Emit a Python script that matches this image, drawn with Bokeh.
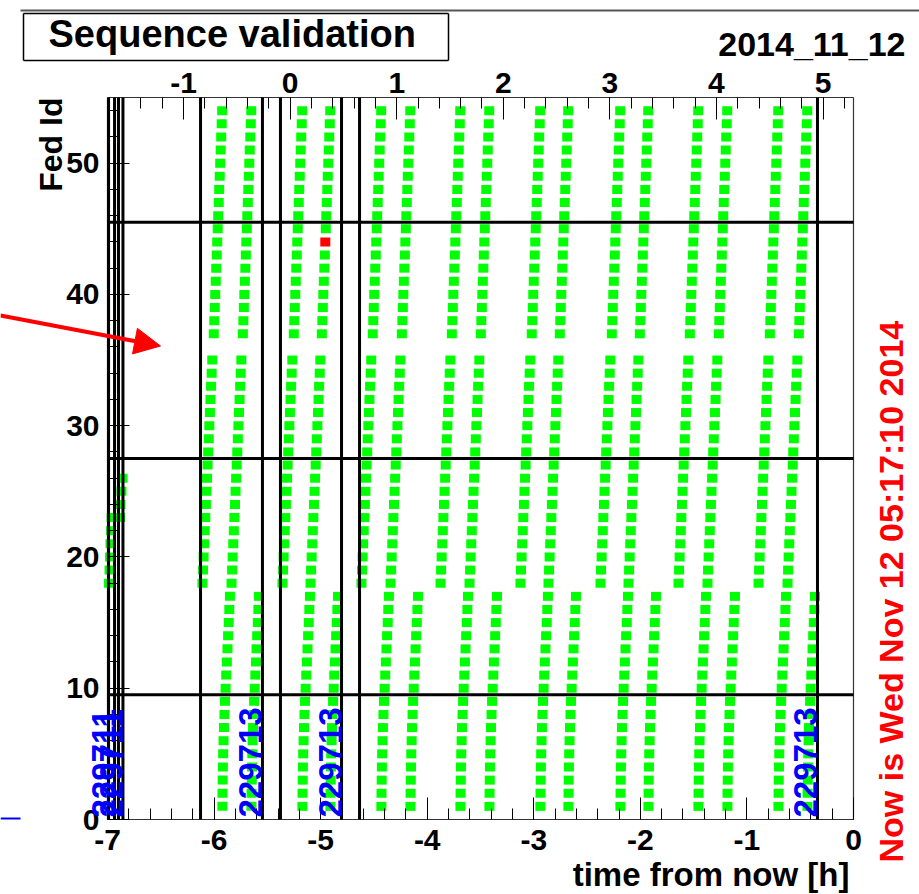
import math
from bokeh.plotting import figure
from bokeh.models import (Range1d, LinearAxis, SingleIntervalTicker, ColumnDataSource,
                          Label, LabelSet, Arrow, NormalHead, CustomJSTickFormatter)
from bokeh.core.properties import value
from bokeh.embed import file_html
from bokeh.resources import INLINE

# ---------------- data ----------------
# FED ids in the order they are validated within one sequence pass
fed_mid = [18, 19, 20, 21, 22, 23, 24, 25, 26, 27, 28, 29, 30, 31, 32, 33, 34, 35]
fed_top = [37, 38, 39, 40, 41, 42, 43, 44, 45, 46, 47, 48, 49, 50, 51, 52, 53, 54]
fed_bot = [1, 2, 3, 4, 5, 6, 7, 8, 9, 10, 11, 12, 13, 14, 15, 16, 17]
# time (s) after the pass start at which each FED is validated
off_mid_s = [0, 19, 38, 58, 77, 96, 116, 135, 155, 174, 193, 212, 232, 252, 271, 291, 311, 331]
off_top_s = [382, 399, 416, 432, 449, 466, 483, 499, 516, 533, 549, 566, 583, 600, 616, 633, 650, 666]
off_bot_s = [672, 677, 683, 690, 700, 712, 726, 743, 762, 782, 803, 824, 845, 866, 887, 907, 928]
# start time of each complete pass (hours from now)
pass_start_h = [-6.109, -5.836, -5.358, -5.095, -4.617, -4.344, -3.875, -3.603,
                -3.125, -2.862, -2.374, -2.111, -1.642, -1.370, -0.891, -0.619]
# partial passes at the very beginning
partial_fed = [18, 19, 20, 21, 22, 23, 23, 24, 25, 26]
partial_time_h = [-6.986, -6.981, -6.976, -6.972, -6.967, -6.962, -6.883, -6.878, -6.869, -6.859]
# failed validations (pass index, fed id)
bad_pass = [3]
bad_fed = [44]
# runs
run_start_h = [-6.990, -6.897, -6.127, -5.377, -4.635]
run_end_h = [-6.934, -6.855, -5.546, -4.804, -0.338]
run_number = ["229711", "229711", "229713", "229713", "229713"]
# crate boundaries (Fed Id)
crate_edges = [9.5, 27.5, 45.5]

t_min, t_max = -7, 0
fed_min, fed_max = 0, 55

title_text = "Sequence validation"
date_text = "2014_11_12"
now_text = "Now is Wed Nov 12 05:17:10 2014"
now_hour = 5 + 17 / 60 + 10 / 3600
x_label = "time from now [h]"
y_label = "Fed Id"

FONT = "Liberation Sans"
W, H = 919, 894
# frame placement on the canvas (pixels)
FL, FR, FT, FB = 107, 853, 97, 819

# ---------------- build points ----------------
fed_order = fed_mid + fed_top + fed_bot
fed_off = off_mid_s + off_top_s + off_bot_s
xs, ys, cs = [], [], []
for k, t0 in enumerate(pass_start_h):
    for f, o in zip(fed_order, fed_off):
        xs.append(t0 + o / 3600.0)
        ys.append(f)
        bad = any(bp == k and bf == f for bp, bf in zip(bad_pass, bad_fed))
        cs.append("#ff0000" if bad else "#00ff00")
for f, t in zip(partial_fed, partial_time_h):
    xs.append(t)
    ys.append(f)
    cs.append("#00ff00")
pts = ColumnDataSource(dict(x=xs, y=ys, c=cs))

# ---------------- figure (frame = whole canvas; axes pinned inside) ----------------
kx = (FR - FL) / (t_max - t_min)
ky = (FB - FT) / (fed_max - fed_min)
xr = Range1d(t_min - FL / kx, t_max + (W - FR) / kx)
yr = Range1d(fed_min - (H - FB) / ky, fed_max + FT / ky)

p = figure(width=W, height=H, x_range=xr, y_range=yr, output_backend="svg",
           toolbar_location=None, x_axis_location=None, y_axis_location=None,
           min_border=0, min_border_left=0, min_border_right=0,
           min_border_top=0, min_border_bottom=0)
p.grid.visible = False
p.background_fill_color = "white"
p.border_fill_color = "white"
p.outline_line_color = None

p.extra_x_ranges = {"top": Range1d(xr.start + now_hour, xr.end + now_hour)}

fmt = CustomJSTickFormatter(code="return Math.round(tick).toFixed(0);")
bottom_axis = LinearAxis(fixed_location=fed_min, bounds=(t_min, t_max),
                         ticker=SingleIntervalTicker(interval=1, num_minor_ticks=5), formatter=fmt)
top_axis = LinearAxis(x_range_name="top", fixed_location=fed_max,
                      bounds=(t_min + now_hour, t_max + now_hour),
                      ticker=SingleIntervalTicker(interval=1, num_minor_ticks=5), formatter=fmt)
left_axis = LinearAxis(fixed_location=t_min, bounds=(fed_min, fed_max),
                       ticker=SingleIntervalTicker(interval=10, num_minor_ticks=5), formatter=fmt)
p.add_layout(bottom_axis, "below")
p.add_layout(top_axis, "above")
p.add_layout(left_axis, "left")

for ax in [bottom_axis, top_axis, left_axis]:
    ax.axis_line_color = None
    ax.major_tick_in = 22
    ax.major_tick_out = 0
    ax.minor_tick_in = 11
    ax.minor_tick_out = 0
    ax.major_tick_line_color = "black"
    ax.minor_tick_line_color = "black"
    ax.major_label_text_font = FONT
    ax.major_label_text_font_style = "bold"
    ax.major_label_text_font_size = "30px"
    ax.major_label_text_color = "black"
bottom_axis.major_label_standoff = 10
top_axis.major_label_standoff = 5
left_axis.major_label_standoff = 8

# markers
p.rect(x="x", y="y", width=10, height=9, width_units="screen", height_units="screen",
       fill_color="c", line_color=None, source=pts)

# frame border
p.segment(x0=[t_min, t_min, t_min, t_max], y0=[fed_min, fed_max, fed_min, fed_min],
          x1=[t_max, t_max, t_min, t_max], y1=[fed_min, fed_max, fed_max, fed_max],
          line_color="#333333", line_width=1.2)

# run boundary lines
nrun = len(run_start_h)
p.segment(x0=run_start_h + run_end_h, y0=[fed_min] * (2 * nrun),
          x1=run_start_h + run_end_h, y1=[fed_max] * (2 * nrun),
          line_color="black", line_width=3)
# crate boundary lines
p.segment(x0=[t_min] * len(crate_edges), y0=crate_edges, x1=[t_max] * len(crate_edges),
          y1=crate_edges, line_color="black", line_width=3)

# run number labels
runsrc = ColumnDataSource(dict(x=run_end_h, y=[fed_min] * nrun, t=run_number))
p.add_layout(LabelSet(x="x", y="y", text="t", source=runsrc, angle=math.pi / 2,
                      text_align="left", text_baseline="alphabetic", y_offset=2,
                      text_font=value(FONT), text_font_style="bold",
                      text_font_size="33px", text_color="#0000ff"))

# texts (screen units from canvas bottom-left); `base` is the wanted glyph baseline
def lab(text, cx, base, size, color="black", vertical=False, align="left"):
    shift = 0.35 * size  # Label places its anchor ~0.35em below the baseline
    if vertical:
        x, y, ang = cx - shift, H - base, math.pi / 2
    else:
        x, y, ang = cx, H - (base - shift), 0
    p.add_layout(Label(text=text, x=x, y=y, x_units="screen", y_units="screen",
                       angle=ang, text_align=align, text_baseline="alphabetic",
                       text_font=FONT, text_font_style="bold", text_font_size=f"{size}px",
                       text_color=color))

lab(title_text, 48, 47, 38)
lab(date_text, 905, 55, 34, align="right")
lab(now_text, 902, 862, 34, color="#ff0000", vertical=True)
lab(y_label, 62, 97, 32, vertical=True, align="right")
lab(x_label, 849, 886, 33, align="right")

def seg(x0, y0, x1, y1, color="black", width=1.5):
    p.add_layout(Arrow(end=None, x_start=x0, y_start=H - y0, x_end=x1, y_end=H - y1,
                       start_units="screen", end_units="screen",
                       line_color=color, line_width=width))

# title box
seg(23, 13, 448, 13)
seg(23, 60, 448, 60)
seg(23, 13, 23, 60)
seg(448, 13, 448, 60)
# top separator line and blue dash
seg(20, 10, 919, 10, color="#555555", width=2)
seg(0, 818, 20, 818, color="#0000ff", width=2)

# red arrow
p.add_layout(Arrow(end=NormalHead(size=26, fill_color="#ff0000", line_color="#ff0000"),
                   x_start=0, y_start=H - 315, x_end=160, y_end=H - 345.5,
                   start_units="screen", end_units="screen",
                   line_color="#ff0000", line_width=4))

open("out.html", "w").write(file_html(p, INLINE))
